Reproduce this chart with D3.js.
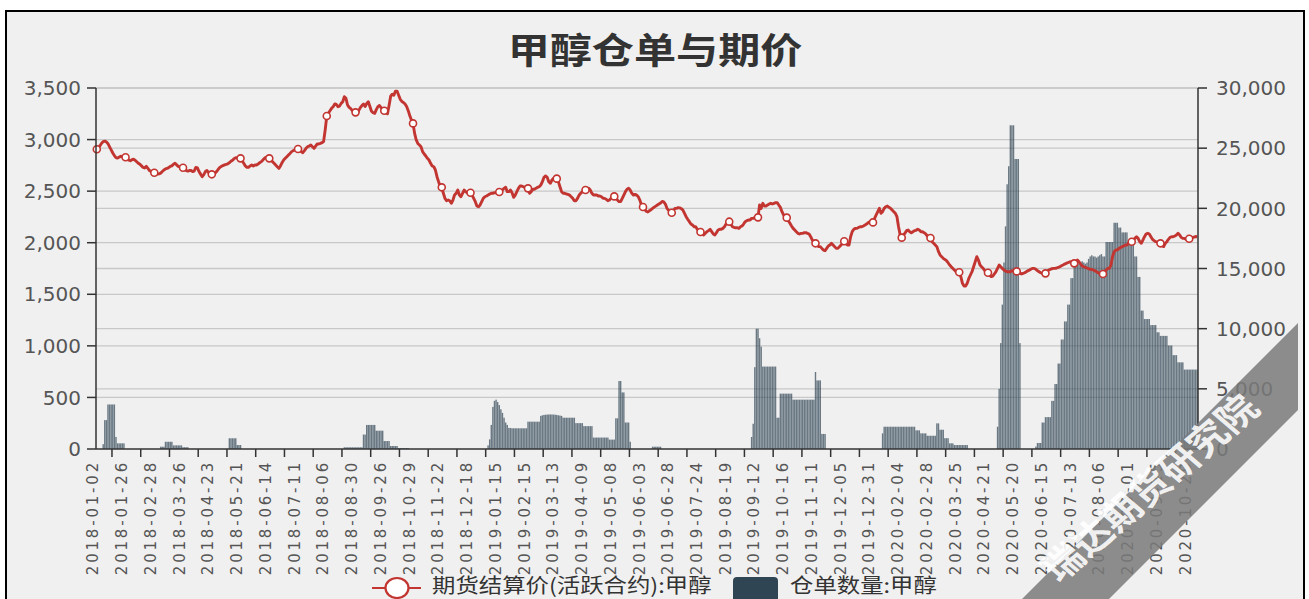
<!DOCTYPE html>
<html><head><meta charset="utf-8">
<script src="https://cdn.jsdelivr.net/npm/d3@7/dist/d3.min.js"></script>
<style>html,body{margin:0;padding:0;background:#fff}svg{display:block}</style>
</head><body>
<svg id="chart" width="1309" height="599"></svg>
<script>
const titleText = "甲醇仓单与期价";
const seriesNames = ["期货结算价(活跃合约):甲醇", "仓单数量:甲醇"];
const watermarkText = "瑞达期货研究院";
const labelEvery = 18;
const tickLabels = ["2018-01-02","2018-01-26","2018-02-28","2018-03-26","2018-04-23","2018-05-21","2018-06-14","2018-07-11","2018-08-06","2018-08-30","2018-09-26","2018-10-29","2018-11-22","2018-12-18","2019-01-15","2019-02-15","2019-03-13","2019-04-09","2019-05-08","2019-06-03","2019-06-28","2019-07-24","2019-08-19","2019-09-12","2019-10-16","2019-11-11","2019-12-05","2019-12-31","2020-02-04","2020-02-28","2020-03-25","2020-04-21","2020-05-20","2020-06-15","2020-07-13","2020-08-06","2020-09-01","2020-09-25","2020-10-29"];
const leftTicks = [0,500,1000,1500,2000,2500,3000,3500];
const rightTicks = [0,5000,10000,15000,20000,25000,30000];

// 期货结算价 (daily, one value per trading day)
const price = [
2906,2920,2940,2965,2980,2985,2978,2960,2930,2900,2870,2845,2825,2820,2830,2838,2835,2830,
2828,2815,2800,2795,2805,2810,2800,2785,2770,2760,2745,2730,2725,2740,2720,2700,2690,2685,
2679,2670,2665,2668,2675,2690,2705,2715,2720,2728,2740,2745,2760,2770,2755,2740,2735,2727,
2727,2710,2700,2695,2700,2700,2690,2695,2730,2725,2690,2665,2640,2660,2690,2700,2680,2663,
2663,2668,2672,2690,2710,2730,2740,2748,2755,2760,2765,2775,2790,2800,2815,2825,2820,2818,
2818,2795,2770,2744,2731,2731,2744,2753,2744,2753,2753,2763,2776,2786,2802,2818,2828,2824,
2818,2808,2786,2770,2753,2737,2721,2744,2776,2802,2818,2834,2850,2866,2883,2893,2899,2905,
2908,2899,2883,2873,2893,2915,2931,2937,2947,2931,2915,2937,2957,2957,2963,2970,2980,3093,
3228,3254,3280,3303,3319,3345,3340,3319,3325,3351,3367,3416,3400,3335,3312,3300,3280,3268,
3264,3254,3280,3310,3330,3345,3320,3350,3367,3320,3275,3260,3254,3290,3319,3330,3310,3290,
3280,3270,3250,3330,3420,3440,3430,3470,3470,3430,3390,3370,3360,3345,3320,3280,3230,3190,
3157,3060,2996,2963,2947,2931,2883,2860,2841,2818,2802,2770,2744,2737,2705,2640,2592,2550,
2537,2479,2430,2407,2414,2407,2382,2414,2462,2479,2511,2462,2446,2479,2511,2495,2485,2485,
2485,2462,2430,2398,2356,2349,2366,2398,2430,2446,2453,2462,2472,2479,2479,2485,2485,2488,
2492,2495,2511,2527,2537,2495,2495,2511,2485,2440,2462,2495,2527,2550,2550,2543,2537,2530,
2527,2479,2495,2518,2518,2527,2537,2543,2559,2592,2634,2647,2634,2592,2576,2608,2624,2630,
2621,2592,2543,2495,2479,2479,2472,2469,2462,2446,2430,2407,2407,2430,2462,2479,2495,2511,
2511,2518,2527,2511,2479,2462,2462,2462,2453,2453,2446,2430,2430,2420,2407,2414,2430,2446,
2449,2430,2414,2398,2398,2430,2462,2495,2518,2527,2511,2479,2462,2469,2462,2446,2414,2366,
2346,2325,2305,2298,2310,2320,2333,2345,2355,2365,2375,2385,2400,2395,2375,2333,2315,2300,
2291,2311,2333,2333,2340,2338,2330,2317,2285,2252,2227,2204,2181,2171,2155,2155,2130,2107,
2104,2084,2075,2091,2107,2117,2130,2107,2084,2075,2097,2123,2130,2130,2139,2155,2181,2197,
2204,2181,2155,2149,2145,2145,2139,2155,2162,2181,2204,2214,2220,2220,2236,2236,2243,2246,
2246,2366,2333,2382,2356,2356,2366,2375,2382,2375,2382,2388,2388,2366,2343,2301,2269,2246,
2243,2214,2188,2162,2139,2123,2107,2091,2084,2091,2091,2097,2097,2091,2084,2058,2026,2000,
1994,1978,1962,1962,1945,1929,1923,1945,1968,1978,1994,1978,1962,1945,1945,1962,1978,1994,
2014,1994,1978,1978,2058,2107,2130,2139,2139,2149,2155,2155,2162,2171,2181,2194,2204,2204,
2197,2236,2269,2301,2333,2285,2301,2333,2349,2356,2343,2333,2317,2301,2285,2252,2155,2075,
2049,2075,2091,2117,2123,2107,2097,2107,2117,2120,2130,2123,2107,2107,2097,2085,2065,2052,
2046,2010,1994,1978,1962,1913,1881,1865,1848,1838,1826,1806,1784,1767,1751,1735,1719,1709,
1713,1671,1606,1580,1580,1606,1654,1687,1719,1767,1816,1865,1832,1784,1767,1751,1729,1713,
1709,1687,1671,1677,1697,1719,1751,1784,1767,1751,1735,1725,1719,1719,1719,1729,1729,1725,
1722,1709,1703,1697,1703,1709,1719,1729,1735,1745,1751,1751,1742,1729,1719,1709,1703,1703,
1703,1719,1735,1742,1748,1751,1751,1755,1761,1767,1777,1784,1793,1800,1806,1813,1816,1806,
1800,1816,1832,1816,1793,1774,1767,1761,1755,1748,1742,1742,1735,1729,1719,1709,1703,1697,
1697,1719,1735,1751,1751,1784,1865,1913,1929,1929,1945,1952,1962,1968,1978,1978,1994,2010,
2010,2026,2042,2058,2042,2010,1994,2026,2058,2084,2091,2084,2058,2033,2020,2010,2007,2000,
1994,1968,1962,1994,2010,2033,2052,2058,2058,2065,2075,2091,2075,2052,2042,2042,2033,2039,
2039,2045,2050,2055,2060,2058
];

// 仓单数量 (daily)
const receipts = [
0,0,0,0,400,2400,2400,3700,3700,3700,3700,3700,1000,470,470,470,470,470,
0,0,0,0,0,0,0,0,0,0,0,0,0,0,0,0,0,0,
0,0,0,0,190,190,190,600,600,600,600,600,300,300,300,300,300,300,
150,150,150,150,0,0,0,0,0,0,0,0,0,0,0,0,0,0,
0,0,0,0,0,0,0,0,0,0,0,890,890,890,890,890,330,330,
330,0,0,0,0,0,0,0,0,0,0,0,0,0,0,0,0,0,
0,0,0,0,0,0,0,0,0,0,0,0,0,0,0,0,0,0,
0,0,0,0,0,0,0,0,0,0,0,0,0,0,0,0,0,0,
0,0,0,0,0,0,0,0,0,0,0,140,140,140,140,140,140,140,
140,140,140,140,140,1200,1200,2000,2000,2000,2000,2000,2000,1520,1520,1520,1520,1520,
660,660,660,660,250,250,250,250,250,80,80,80,80,80,80,80,0,0,
0,0,0,0,0,0,0,0,0,0,0,0,0,0,0,0,0,0,
0,0,0,0,0,0,0,0,0,0,0,0,0,0,0,0,0,0,
0,0,0,0,0,0,0,0,0,0,0,300,800,2000,3500,4000,4100,3900,
3650,3300,3000,2600,2200,2000,1750,1750,1720,1720,1720,1720,1720,1720,1720,1720,1720,1720,
2270,2270,2270,2270,2270,2270,2270,2270,2750,2800,2830,2850,2860,2870,2870,2870,2860,2850,
2830,2800,2780,2750,2600,2600,2600,2600,2600,2600,2600,2600,2150,2150,2150,2150,2150,1900,
1900,1900,1900,1900,1900,950,950,950,950,950,950,950,950,950,950,780,780,780,
780,2550,2550,5650,5650,4700,4700,2200,2200,2200,600,0,0,0,0,0,0,0,
0,0,0,0,0,0,190,190,190,190,190,190,0,0,0,0,0,0,
0,0,0,0,0,0,0,0,0,0,0,0,0,0,0,0,0,0,
0,0,0,0,0,0,0,0,0,0,0,0,0,0,0,0,0,0,
0,0,0,0,0,0,0,0,0,0,0,0,0,0,1000,2100,6800,10000,
10000,9200,8500,6850,6850,6850,6850,6850,6850,6850,6850,6850,2600,2600,4600,4600,4600,4600,
4600,4600,4600,4600,4100,4100,4100,4100,4100,4100,4100,4100,4100,4100,4100,4100,4100,4100,
6400,5700,5700,5700,1250,1250,1250,0,0,0,0,0,0,0,0,0,0,0,
0,0,0,0,0,0,0,0,0,0,0,0,0,0,0,0,0,0,
0,0,0,0,0,0,1300,1850,1850,1850,1850,1850,1850,1850,1850,1850,1850,1850,
1850,1850,1850,1850,1850,1850,1850,1850,1850,1550,1550,1550,1300,1300,1300,1300,1100,1100,
1100,1100,1100,1100,2130,2130,1600,1600,1600,900,900,900,470,470,470,330,330,330,
330,330,330,330,330,330,0,0,0,0,0,0,0,0,0,0,0,0,
0,0,0,0,0,0,1850,5000,8800,12000,15500,18500,22000,23500,26900,26900,26900,24100,
24100,24100,8800,0,0,0,0,0,0,0,0,0,200,500,500,500,2200,2200,
2650,2650,2650,2650,4000,4000,5400,5400,7100,7100,9100,9100,10600,10600,12000,12000,14200,14200,
15600,15700,15500,15400,15500,15600,15500,15400,15500,15800,16000,16100,16000,16000,15900,16000,16100,16200,
16000,16000,17200,17200,17200,17200,17200,18800,18800,18800,18400,18400,18000,18000,18000,18000,17200,17200,
17200,17200,16000,16000,14300,14300,11500,11500,10800,10800,10800,10800,10300,10300,10300,10300,9700,9700,
9400,9400,9400,9400,9400,8600,8600,8600,7800,7800,7800,7200,7200,7200,7200,6600,6600,6600,
6600,6600,6600,6600,6600,6600
];

const categories = d3.range(price.length);

const W = 1309, H = 599;
const plot = {left: 96, right: 1198, top: 88, bottom: 449};
const svg = d3.select("#chart");
const CJK = "'Noto Sans CJK SC','Noto Sans',sans-serif";
const NUM = "'DejaVu Sans',sans-serif";
const red = "#c23531", dark = "#2f4554";

// frame
svg.append("rect").attr("x",0).attr("y",0).attr("width",W).attr("height",H).attr("fill","#fff");
svg.append("rect").attr("x",6).attr("y",11).attr("width",1298).attr("height",620)
  .attr("fill","#f0f0f0").attr("stroke","#000").attr("stroke-width",2);

const x = d3.scaleBand().domain(categories).range([plot.left, plot.right]).paddingInner(0).paddingOuter(0);
const bw = x.bandwidth();
const yL = d3.scaleLinear().domain([0, 3500]).range([plot.bottom, plot.top]);
const yR = d3.scaleLinear().domain([0, 30000]).range([plot.bottom, plot.top]);

// grid lines
const grid = svg.append("g").attr("stroke","#c8c8c8").attr("stroke-width",1.3);
leftTicks.slice(1).forEach(v => grid.append("line").attr("x1",plot.left).attr("x2",plot.right).attr("y1",yL(v)).attr("y2",yL(v)));
rightTicks.slice(1).forEach(v => grid.append("line").attr("x1",plot.left).attr("x2",plot.right).attr("y1",yR(v)).attr("y2",yR(v)));

// bars
svg.append("g").selectAll("rect").data(receipts).join("rect")
  .attr("x",(d,i)=>x(i)+bw*0.06).attr("width",bw*0.88)
  .attr("y",d=>yR(d)).attr("height",d=>yR(0)-yR(d))
  .attr("fill",dark).attr("fill-opacity",0.7);

// line
const line = d3.line().x((d,i)=>x(i)+bw/2).y(d=>yL(d));
svg.append("path").datum(price).attr("d",line).attr("fill","none")
  .attr("stroke",red).attr("stroke-width",2.9).attr("stroke-linejoin","round");
svg.append("g").selectAll("circle").data(price.map((v,i)=>({v,i})).filter(d=>d.i%labelEvery===0)).join("circle")
  .attr("cx",d=>x(d.i)+bw/2).attr("cy",d=>yL(d.v)).attr("r",3.5)
  .attr("fill","#fff").attr("stroke",red).attr("stroke-width",1.6);

// axes
const axisG = svg.append("g").attr("stroke","#333").attr("stroke-width",1.5);
axisG.append("line").attr("x1",plot.left).attr("x2",plot.left).attr("y1",plot.top).attr("y2",plot.bottom);
axisG.append("line").attr("x1",plot.right).attr("x2",plot.right).attr("y1",plot.top).attr("y2",plot.bottom);
axisG.append("line").attr("x1",plot.left).attr("x2",plot.right).attr("y1",plot.bottom).attr("y2",plot.bottom);
leftTicks.forEach(v => axisG.append("line").attr("x1",plot.left-9).attr("x2",plot.left).attr("y1",yL(v)).attr("y2",yL(v)));
rightTicks.forEach(v => axisG.append("line").attr("x1",plot.right).attr("x2",plot.right+9).attr("y1",yR(v)).attr("y2",yR(v)));
const tickOffset = 10;
for (let i = tickOffset; i < categories.length; i += labelEvery) {
  axisG.append("line").attr("x1",x(i)).attr("x2",x(i)).attr("y1",plot.bottom).attr("y2",plot.bottom+8);
}

const fmt = d3.format(",");
svg.append("g").selectAll("text").data(leftTicks).join("text")
  .attr("x",plot.left-15).attr("y",d=>yL(d)).attr("dy","0.36em").attr("text-anchor","end")
  .attr("font-family",NUM).attr("font-size",20).attr("fill","#555").text(d=>fmt(d));
svg.append("g").selectAll("text").data(rightTicks).join("text")
  .attr("x",plot.right+18).attr("y",d=>yR(d)).attr("dy","0.36em").attr("text-anchor","start")
  .attr("font-family",NUM).attr("font-size",20).attr("fill","#555").text(d=>fmt(d));

svg.append("g").selectAll("text").data(tickLabels).join("text")
  .attr("transform",(d,k)=>`translate(${x(k*labelEvery)+bw/2+1.5},${plot.bottom+11}) rotate(-90)`)
  .attr("text-anchor","end").attr("font-family",NUM).attr("font-size",15)
  .attr("letter-spacing","2.8px").attr("fill","#555").text(d=>d);

// title
svg.append("g").attr("transform","translate(655,64) scale(1.17,1)")
  .append("text").attr("text-anchor","middle").attr("font-family",CJK).attr("font-weight","bold")
  .attr("font-size",36).attr("fill","#333").text(titleText);

// legend
const lg = svg.append("g");
lg.append("line").attr("x1",372).attr("x2",421).attr("y1",588).attr("y2",588).attr("stroke",red).attr("stroke-width",2.2);
lg.append("ellipse").attr("cx",397).attr("cy",588).attr("rx",11.5).attr("ry",10).attr("fill","#fff").attr("stroke",red).attr("stroke-width",2.2);
lg.append("g").attr("transform","translate(432,593) scale(1.17,1)").append("text")
  .attr("font-family",CJK).attr("font-size",20).attr("fill","#333").text(seriesNames[0]);
lg.append("rect").attr("x",733).attr("y",577).attr("width",45).attr("height",26).attr("rx",4).attr("fill",dark);
lg.append("g").attr("transform","translate(790,593) scale(1.17,1)").append("text")
  .attr("font-family",CJK).attr("font-size",20).attr("fill","#333").text(seriesNames[1]);

// watermark
const wm = svg.append("g");
wm.append("polygon").attr("points","1298,323 1298,410 1109,599 1022,599").attr("fill","#7a7a7a").attr("fill-opacity",0.85);
wm.append("g").attr("transform","translate(1150,488) scale(1.17,1) rotate(-45)").append("text")
  .attr("text-anchor","middle").attr("dy","0.36em").attr("font-family",CJK).attr("font-weight","bold")
  .attr("font-size",35).attr("fill","#fff").attr("fill-opacity",0.9).text(watermarkText);
</script>
</body></html>
